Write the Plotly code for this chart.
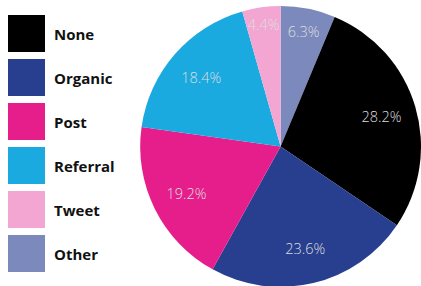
import plotly.graph_objects as go

labels = ["Other", "None", "Organic", "Post", "Referral", "Tweet"]
values = [6.3, 28.2, 23.6, 19.2, 18.4, 4.4]
colors = ["#7b89bc", "#000000", "#283f8f", "#e51e8c", "#1aaae0", "#f3a6d2"]

legend_labels = ["None", "Organic", "Post", "Referral", "Tweet", "Other"]
legend_colors = ["#000000", "#283f8f", "#e51e8c", "#1aaae0", "#f3a6d2", "#7b89bc"]

W, H = 421, 293
dom = dict(x=[0.333, 1.0], y=[0.0, 1.0])

fig = go.Figure()
fig.add_trace(go.Pie(
    labels=labels,
    values=values,
    sort=False,
    direction="clockwise",
    rotation=0,
    marker=dict(colors=colors, line=dict(width=0)),
    textinfo="none",
    domain=dom,
    hoverinfo="label+value",
    showlegend=False,
))
fig.add_trace(go.Pie(
    labels=labels,
    values=values,
    sort=False,
    direction="clockwise",
    rotation=0,
    hole=0.5,
    marker=dict(colors=["rgba(0,0,0,0)"] * len(values), line=dict(width=0)),
    texttemplate="%{value:.1f}%",
    textposition="inside",
    insidetextorientation="horizontal",
    textfont=dict(family="Open Sans", size=14.5, color="#dedede", weight=300),
    domain=dom,
    hoverinfo="skip",
    showlegend=False,
))

shapes = []
annotations = []
sq = 37.0
gap = 44.0
top = 15.0
for i, (lab, col) in enumerate(zip(legend_labels, legend_colors)):
    y0 = top + i * gap
    shapes.append(dict(
        type="rect", xref="paper", yref="paper",
        x0=8 / W, x1=(8 + sq) / W,
        y0=1 - (y0 + sq) / H, y1=1 - y0 / H,
        fillcolor=col, line=dict(width=0),
    ))
    annotations.append(dict(
        xref="paper", yref="paper",
        x=52 / W, y=1 - (y0 + sq / 2) / H,
        xanchor="left", yanchor="middle",
        text=lab, showarrow=False,
        font=dict(family="Open Sans", size=15, color="#111111", weight=700),
    ))

fig.update_layout(
    width=W, height=H,
    margin=dict(l=0, r=0, t=0, b=0),
    paper_bgcolor="white",
    plot_bgcolor="white",
    shapes=shapes,
    annotations=annotations,
    uniformtext=dict(minsize=14, mode="show"),
)

fig.write_html("out.html", config={"displayModeBar": False},
               post_script="document.body.style.margin='0';")
